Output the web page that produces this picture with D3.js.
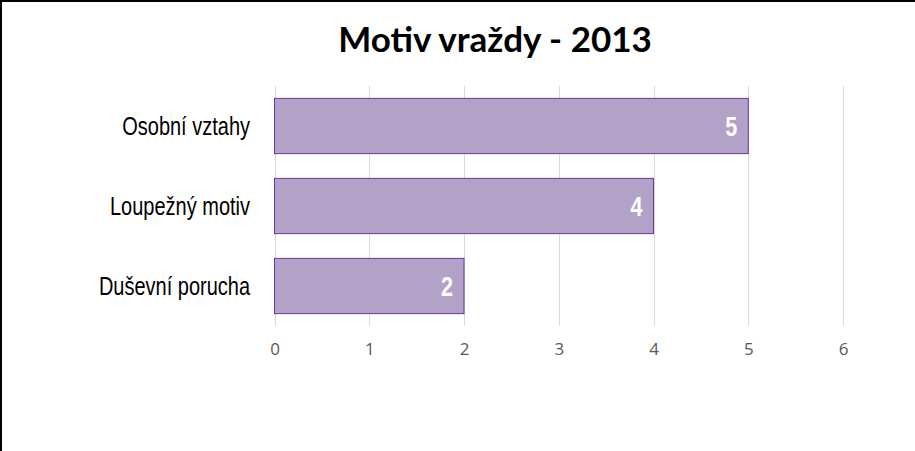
<!DOCTYPE html>
<html><head><meta charset="utf-8">
<script src="https://cdn.jsdelivr.net/npm/d3@7"></script>
<style>
html,body{margin:0;padding:0;background:#fff;}
svg{display:block;}
</style></head>
<body>
<svg id="chart" width="915" height="451"></svg>
<script>
const categories = ["Osobní vztahy", "Loupežný motiv", "Duševní porucha"];
const values = [5, 4, 2];
const tickValues = [0, 1, 2, 3, 4, 5, 6];
const title = "Motiv vraždy - 2013";

const svg = d3.select("#chart");
const W = 915, H = 451;

// borders (top and left)
svg.append("line").attr("x1",0).attr("x2",W).attr("y1",1).attr("y2",1).attr("stroke","#000").attr("stroke-width",2);
svg.append("line").attr("x1",1).attr("x2",1).attr("y1",0).attr("y2",H).attr("stroke","#000").attr("stroke-width",2);

const x = d3.scaleLinear().domain([0, 6]).range([274.5, 843]);
const y = d3.scaleBand().domain(categories).range([86, 326]).paddingInner(0.31).paddingOuter(0.155);

// gridlines
svg.append("g").selectAll("line").data(tickValues).join("line")
  .attr("x1", d => Math.round(x(d)) + 0.5).attr("x2", d => Math.round(x(d)) + 0.5)
  .attr("y1", 86).attr("y2", 326)
  .attr("stroke", "#d9d9d9").attr("stroke-width", 1);

// x axis labels
const xAxis = d3.axisBottom(x).tickValues(tickValues).tickSize(0).tickPadding(0).tickFormat(d3.format("d"));
const gx = svg.append("g").attr("transform", "translate(0,355)").call(xAxis);
gx.select(".domain").remove();
gx.attr("font-size", null).attr("font-family", null);
gx.selectAll("text").attr("dy", "0em")
  .style("fill", "#595959").style("font-family", "'Open Sans', sans-serif").style("font-size", "17px");

// bars
svg.append("g").selectAll("rect").data(values).join("rect")
  .attr("x", x(0))
  .attr("y", (d, i) => y(categories[i]))
  .attr("width", d => x(d) - x(0))
  .attr("height", y.bandwidth())
  .attr("fill", "#b3a2c7")
  .attr("stroke", "#7030a0")
  .attr("stroke-width", 1);

// data labels (condensed look)
svg.append("g").selectAll("text").data(values).join("text")
  .attr("transform", (d, i) => `translate(${x(d) - 11},${y(categories[i]) + y.bandwidth() / 2}) scale(0.8,1)`)
  .attr("dy", "0.36em")
  .attr("text-anchor", "end")
  .attr("fill", "#fff")
  .attr("font-family", "'Liberation Sans', Arial, sans-serif")
  .attr("font-weight", "bold")
  .attr("font-size", 27)
  .text(d => d);

// y axis labels (narrow look)
const yAxis = d3.axisLeft(y).tickSize(0).tickPadding(0);
const gy = svg.append("g").attr("transform", "translate(250,0)").call(yAxis);
gy.select(".domain").remove();
gy.attr("font-size", null).attr("font-family", null);
gy.selectAll("text").attr("x", 0).attr("dy", "0.36em").attr("transform", "scale(0.8,1)")
  .style("fill", "#000").style("font-family", "'Liberation Sans', Arial, sans-serif").style("font-size", "25px");

// title
svg.append("text").attr("x", 495).attr("y", 52).attr("text-anchor", "middle")
  .attr("font-family", "Lato, 'Open Sans', sans-serif").attr("font-weight", "bold").attr("font-size", 35)
  .attr("fill", "#000").text(title);
</script>
</body></html>
